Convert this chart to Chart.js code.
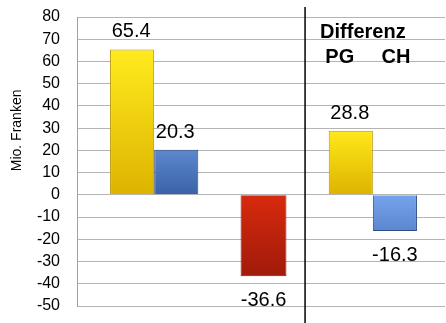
<!DOCTYPE html>
<html>
<head>
<meta charset="utf-8">
<script src="https://cdn.jsdelivr.net/npm/chart.js@4.4.0/dist/chart.umd.min.js"></script>
<style>
  html, body { margin: 0; padding: 0; background: #fff; }
  #wrap { width: 446px; height: 323px; }
</style>
</head>
<body>
<div id="wrap"><canvas id="diffChart"></canvas></div>
<script>
// Werte (Mio. Franken)
const categories = ['Gruppe', 'Saldo', 'Differenz'];
const pgValues = [65.4, null, 28.8];
const chValues = [20.3, null, -16.3];
const saldoValues = [null, -36.6, null];
const yTicks = [80, 70, 60, 50, 40, 30, 20, 10, 0, -10, -20, -30, -40, -50];
const yTitle = 'Mio. Franken';

function toPoints(values) {
    return categories.map(function(c, i) { return { x: i, y: values[i] }; });
}

// vertical gradient per bar, from bar top to bar bottom
function barGradient(topColors, bottomColors) {
    return function(ctx) {
        const chart = ctx.chart;
        const yScale = chart.scales.y;
        if (!yScale || !ctx.parsed || ctx.parsed.y == null) return topColors[0];
        const cat = ctx.parsed.x;
        const colTop = topColors[cat] || topColors[0];
        const colBot = bottomColors[cat] || bottomColors[0];
        const y1 = yScale.getPixelForValue(Math.max(ctx.parsed.y, 0));
        const y2 = yScale.getPixelForValue(Math.min(ctx.parsed.y, 0));
        if (!isFinite(y1) || !isFinite(y2) || y1 === y2) return colTop;
        const g = chart.ctx.createLinearGradient(0, y1, 0, y2);
        g.addColorStop(0, colTop);
        g.addColorStop(1, colBot);
        return g;
    };
}

const valueLabels = {
    id: 'valueLabels',
    afterDatasetsDraw(chart) {
        const c = chart.ctx;
        c.save();
        c.font = '20px "Liberation Sans", Arial, sans-serif';
        c.fillStyle = '#000';
        c.textAlign = 'center';
        chart.data.datasets.forEach(function(ds, di) {
            const meta = chart.getDatasetMeta(di);
            meta.data.forEach(function(bar, i) {
                const v = ds.data[i].y;
                if (v == null) return;
                const txt = v.toFixed(1);
                if (v >= 0) {
                    c.textBaseline = 'alphabetic';
                    c.fillText(txt, bar.x - 1, bar.y - 12);
                } else {
                    c.textBaseline = 'top';
                    c.fillText(txt, bar.x, bar.y + 14);
                }
            });
        });
        c.restore();
    }
};

const divider = {
    id: 'divider',
    afterDatasetsDraw(chart) {
        const c = chart.ctx;
        const x = chart.scales.x.getPixelForValue(1.38);
        const yScale = chart.scales.y;
        c.save();
        c.strokeStyle = '#000';
        c.lineWidth = 1.5;
        c.beginPath();
        c.moveTo(x, 7);
        c.lineTo(x, chart.height);
        c.stroke();

        // Kopf "Differenz PG CH"
        const pgBar = chart.getDatasetMeta(0).data[2];
        const chBar = chart.getDatasetMeta(1).data[2];
        c.fillStyle = '#000';
        c.font = 'bold 20px "Liberation Sans", Arial, sans-serif';
        c.textAlign = 'center';
        c.textBaseline = 'alphabetic';
        c.fillText('Differenz', (pgBar.x + chBar.x) / 2 - 10, yScale.getPixelForValue(70.4));
        c.fillText('PG', pgBar.x - 11, yScale.getPixelForValue(59.2));
        c.fillText('CH', chBar.x + 1, yScale.getPixelForValue(59.2));

        // Achsentitel, etwas oberhalb der Mitte wie im Original
        c.font = '14px "Liberation Sans", Arial, sans-serif';
        c.translate(17, yScale.getPixelForValue(29));
        c.rotate(-Math.PI / 2);
        c.textBaseline = 'middle';
        c.fillText(yTitle, 0, 0);
        c.restore();
    }
};

new Chart(document.getElementById('diffChart'), {
    type: 'bar',
    data: {
        datasets: [{
            label: 'PG',
            data: toPoints(pgValues),
            backgroundColor: barGradient(['#FFEB1E', '#FFE81A', '#FFE81A'], ['#DDB300', '#DDB300', '#DDB300']),
            borderColor: '#B89400',
            borderWidth: 1,
            barPercentage: 1
        }, {
            label: 'CH',
            data: toPoints(chValues),
            backgroundColor: barGradient(['#5C88CF', '#5C88CF', '#76A4EC'], ['#3A62A6', '#3A62A6', '#5C86CF']),
            borderColor: '#2C4C85',
            borderWidth: 1,
            barPercentage: 1
        }, {
            label: 'Saldo',
            data: toPoints(saldoValues),
            backgroundColor: barGradient(['#D82A0E'], ['#A01A0A']),
            borderColor: '#7E1208',
            borderWidth: 1,
            barPercentage: 0.52
        }]
    },
    options: {
        responsive: true,
        maintainAspectRatio: false,
        animation: false,
        skipNull: true,
        categoryPercentage: 0.807,
        layout: { padding: { top: 17, bottom: 17, right: 1, left: 0 } },
        plugins: {
            legend: { display: false },
            tooltip: { enabled: false }
        },
        scales: {
            x: {
                type: 'linear',
                min: -0.706,
                max: 2.66,
                offset: false,
                display: false,
                afterBuildTicks: function(scale) {
                    scale.ticks = categories.map(function(c, i) { return { value: i }; });
                }
            },
            y: {
                min: -50,
                max: 80,
                afterFit: function(scale) { scale.width = 77; },
                afterBuildTicks: function(scale) {
                    scale.ticks = yTicks.slice().reverse().map(function(v) { return { value: v }; });
                },
                ticks: {
                    padding: 0,
                    color: '#000',
                    font: { family: '"Liberation Sans", Arial, sans-serif', size: 16 }
                },
                grid: {
                    color: '#B4B4B4',
                    lineWidth: 1,
                    drawTicks: true,
                    tickLength: 17,
                    tickColor: 'rgba(0,0,0,0)'
                },
                border: { color: '#A0A0A0' }
            }
        }
    },
    plugins: [valueLabels, divider]
});
</script>
</body>
</html>
